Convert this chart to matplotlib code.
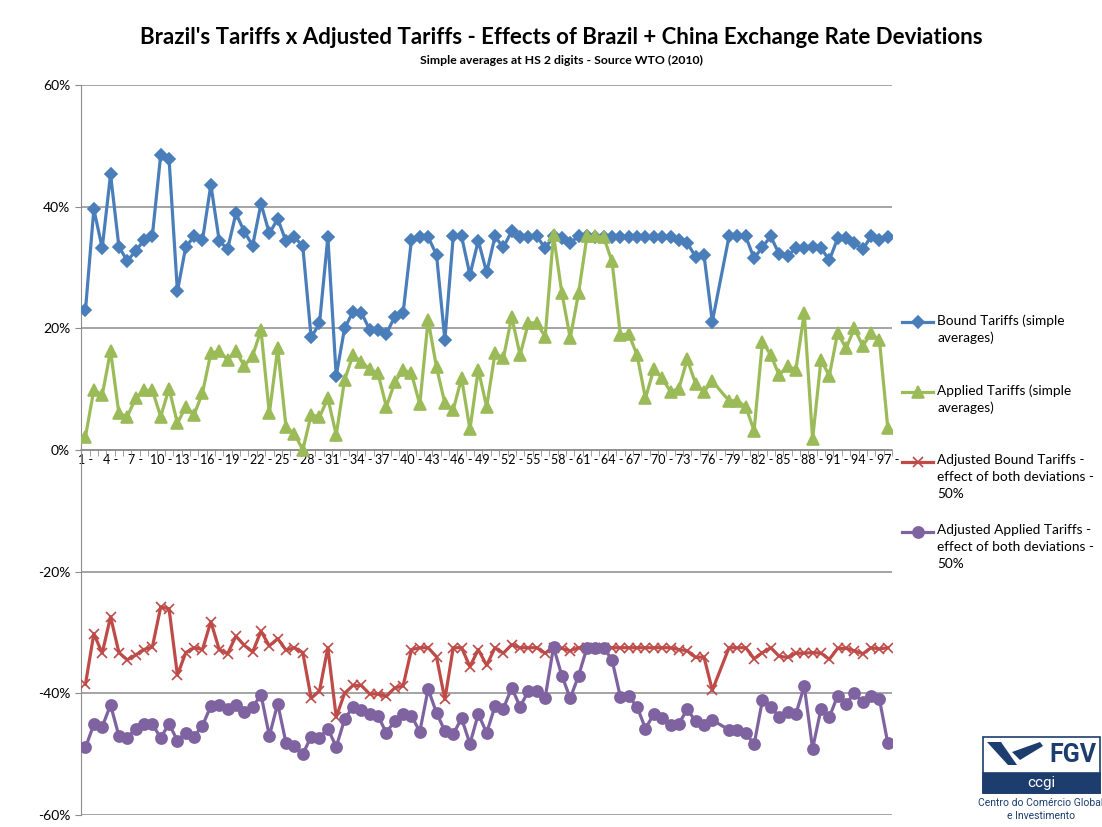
import numpy as np
import matplotlib.pyplot as plt
from matplotlib.lines import Line2D
from matplotlib.patches import Rectangle, Polygon

plt.rcParams["font.family"] = ["Lato", "DejaVu Sans"]

# -------- data (HS 2-digit chapters, chapter 77 has no data) --------
chapters = list(range(1, 98))

bound = [
    23.0, 39.6, 33.2, 45.3, 33.4, 31.1, 32.7, 34.5, 35.2, 48.5,
    47.8, 26.1, 33.4, 35.1, 34.5, 43.6, 34.4, 33.0, 38.9, 35.9,
    33.6, 40.5, 35.6, 38.0, 34.3, 35.0, 33.5, 18.5, 20.8, 35.0,
    12.2, 20.0, 22.7, 22.6, 19.8, 19.8, 19.1, 21.9, 22.5, 34.5,
    35.0, 35.0, 32.1, 18.1, 35.1, 35.1, 28.8, 34.4, 29.2, 35.1,
    33.3, 36.0, 35.0, 35.0, 35.1, 33.2, 35.1, 34.8, 34.1, 35.1,
    35.1, 35.0, 35.0, 35.0, 35.0, 35.0, 35.0, 35.0, 35.0, 35.0,
    35.0, 34.5, 34.0, 31.8, 32.1, 21.1, None, 35.1, 35.1, 35.1,
    31.5, 33.4, 35.1, 32.2, 31.9, 33.2, 33.2, 33.4, 33.2, 31.2,
    34.8, 34.8, 34.1, 33.0, 35.1, 34.6, 35.0,
]

applied = [
    2.2, 9.9, 9.0, 16.3, 6.0, 5.5, 8.5, 9.8, 9.8, 5.5,
    10.1, 4.4, 7.1, 5.8, 9.4, 15.9, 16.3, 14.8, 16.3, 13.8,
    15.5, 19.7, 6.0, 16.7, 3.7, 2.7, 0.0, 5.8, 5.4, 8.5,
    2.5, 11.5, 15.6, 14.5, 13.3, 12.6, 7.1, 11.1, 13.2, 12.6,
    7.5, 21.4, 13.6, 7.7, 6.6, 11.8, 3.4, 13.2, 7.1, 15.9,
    15.1, 21.9, 15.6, 20.9, 20.9, 18.6, 35.3, 25.8, 18.4, 25.8,
    35.1, 35.1, 35.0, 31.0, 18.9, 19.1, 15.6, 8.5, 13.3, 11.8,
    9.6, 10.1, 14.9, 10.9, 9.6, 11.3, None, 8.1, 8.1, 7.1,
    3.2, 17.8, 15.6, 12.3, 13.8, 13.2, 22.5, 1.8, 14.8, 12.2,
    19.3, 16.7, 20.0, 17.1, 19.2, 18.0, 3.6,
]

adj_bound = [
    -38.5, -30.2, -33.4, -27.4, -33.3, -34.5, -33.7, -32.8, -32.4, -25.8,
    -26.1, -37.0, -33.3, -32.5, -32.8, -28.2, -32.8, -33.5, -30.6, -32.1,
    -33.2, -29.8, -32.2, -31.0, -32.9, -32.5, -33.3, -40.8, -39.6, -32.5,
    -43.9, -40.0, -38.7, -38.7, -40.1, -40.1, -40.5, -39.1, -38.8, -32.8,
    -32.5, -32.5, -34.0, -41.0, -32.5, -32.5, -35.6, -32.8, -35.4, -32.5,
    -33.4, -32.0, -32.5, -32.5, -32.5, -33.4, -32.5, -32.6, -33.0, -32.5,
    -32.5, -32.5, -32.5, -32.5, -32.5, -32.5, -32.5, -32.5, -32.5, -32.5,
    -32.5, -32.8, -33.0, -34.1, -34.0, -39.5, None, -32.5, -32.5, -32.5,
    -34.3, -33.3, -32.5, -33.9, -34.1, -33.4, -33.4, -33.3, -33.4, -34.4,
    -32.6, -32.6, -33.0, -33.5, -32.5, -32.7, -32.5,
]

adj_applied = [
    -48.9, -45.1, -45.5, -41.9, -47.0, -47.3, -45.8, -45.1, -45.1, -47.3,
    -45.0, -47.8, -46.5, -47.1, -45.3, -42.1, -41.9, -42.6, -41.9, -43.1,
    -42.3, -40.2, -47.0, -41.7, -48.2, -48.7, -50.0, -47.1, -47.3, -45.8,
    -48.8, -44.3, -42.2, -42.8, -43.4, -43.7, -46.5, -44.5, -43.4, -43.7,
    -46.3, -39.3, -43.2, -46.2, -46.7, -44.1, -48.3, -43.4, -46.5, -42.1,
    -42.5, -39.1, -42.2, -39.6, -39.6, -40.7, -32.4, -37.1, -40.8, -37.1,
    -32.5, -32.5, -32.5, -34.5, -40.6, -40.5, -42.2, -45.8, -43.4, -44.1,
    -45.2, -45.0, -42.6, -44.6, -45.2, -44.4, None, -46.0, -46.0, -46.5,
    -48.4, -41.1, -42.2, -43.9, -43.1, -43.4, -38.8, -49.1, -42.6, -43.9,
    -40.4, -41.7, -40.0, -41.5, -40.4, -41.0, -48.2,
]

labels = [
    "Bound Tariffs (simple\naverages)",
    "Applied Tariffs (simple\naverages)",
    "Adjusted Bound Tariffs -\neffect of both deviations -\n50%",
    "Adjusted Applied Tariffs -\neffect of both deviations -\n50%",
]

# -------- style --------
COLORS = ["#4A7EBB", "#9BBB59", "#BE4B48", "#7F63A1"]
MARKERS = [("D", 6.5), ("^", 9.0), ("x", 7.5), ("o", 8.0)]
GRID = "#8C8C8C"

W, H = 1102, 827
fig = plt.figure(figsize=(W / 100, H / 100), dpi=100)
ax = fig.add_axes([81.3 / W, 1 - 815 / H, 810.7 / W, 730 / H])


def valid(xs, ys):
    pts = [(x, y) for x, y in zip(xs, ys) if y is not None]
    return [p[0] for p in pts], [p[1] for p in pts]


series = [bound, applied, adj_bound, adj_applied]
for i, vals in enumerate(series):
    xs, ys = valid(chapters, vals)
    m, ms = MARKERS[i]
    ax.plot(xs, ys, color=COLORS[i], lw=2.3, marker=m, ms=ms,
            mec=COLORS[i], mfc=COLORS[i], mew=1.2, zorder=3 + i,
            solid_joinstyle="round")

# -------- axes --------
ax.set_xlim(0.5, 97.5)
ax.set_ylim(-60, 60)
ax.set_yticks(range(-60, 61, 20))
ax.set_yticklabels([f"{v}%" for v in range(-60, 61, 20)], fontsize=10)
ax.yaxis.grid(True, color=GRID, lw=1.1)
ax.set_axisbelow(True)

for s in ["top", "right"]:
    ax.spines[s].set_visible(False)
ax.spines["left"].set_color(GRID)
ax.spines["bottom"].set_position(("data", 0))
ax.spines["bottom"].set_color(GRID)
ax.spines["bottom"].set_linewidth(1.1)

ax.set_xticks(chapters[::3])
ax.set_xticklabels([f"{c} -" for c in chapters[::3]], fontsize=9)
ax.set_xticks(np.arange(0.5, 98, 1.0), minor=True)
ax.tick_params(axis="x", which="major", length=0, pad=3)
ax.tick_params(axis="x", which="minor", length=4, color=GRID, direction="out")
ax.tick_params(axis="y", length=4, color=GRID, pad=4)

# -------- titles --------
fig.text(561 / W, 1 - 38 / H,
         "Brazil's Tariffs x Adjusted Tariffs - Effects of Brazil + China Exchange Rate Deviations",
         ha="center", va="center", fontsize=16, fontweight="bold")
fig.text(561 / W, 1 - 60 / H, "Simple averages at HS 2 digits - Source WTO (2010)",
         ha="center", va="center", fontsize=8.8, fontweight="bold")

# -------- legend (drawn by hand to match the layout) --------
LEG_Y = [322, 392, 462, 532]
for i, y in enumerate(LEG_Y):
    yf = 1 - y / H
    fig.add_artist(Line2D([902 / W, 933 / W], [yf, yf], color=COLORS[i], lw=2.3,
                          transform=fig.transFigure))
    m, ms = MARKERS[i]
    fig.add_artist(Line2D([917.5 / W], [yf], color=COLORS[i], marker=m, ms=ms,
                          mec=COLORS[i], mfc=COLORS[i], mew=1.2, lw=0,
                          transform=fig.transFigure))
    fig.text(937 / W, yf + 8 / H, labels[i], ha="left", va="top", fontsize=9.8,
             linespacing=1.5)

# -------- FGV ccgi logo --------
NAVY = "#1C3D6E"
fig.add_artist(Rectangle((983 / W, 1 - 793 / H), 117 / W, 56 / H,
                         transform=fig.transFigure, fc="white", ec=NAVY, lw=1.2))
fig.add_artist(Rectangle((983 / W, 1 - 793 / H), 117 / W, 20 / H,
                         transform=fig.transFigure, fc=NAVY, ec=NAVY, lw=1.2))


def fpoly(pts):
    return Polygon([(x / W, 1 - y / H) for x, y in pts], closed=True,
                   transform=fig.transFigure, fc=NAVY, ec="none")


fig.add_artist(fpoly([(987, 742), (1001, 742), (1017, 765), (1008, 765)]))
fig.add_artist(fpoly([(1012, 752), (1040, 742), (1043, 746), (1020, 760)]))
fig.text(1073 / W, 1 - 755 / H, "FGV", ha="center", va="center", fontsize=18,
         fontweight="bold", color=NAVY, family="Roboto")
fig.text(1041 / W, 1 - 783 / H, "ccgi", ha="center", va="center", fontsize=11,
         color="white", family="Roboto")
fig.text(1041 / W, 1 - 803 / H, "Centro do Comércio Global", ha="center",
         va="center", fontsize=7.5, color=NAVY, family="Roboto")
fig.text(1041 / W, 1 - 816 / H, "e Investimento", ha="center", va="center",
         fontsize=7.5, color=NAVY, family="Roboto")

fig.savefig("out.png", dpi=100)
